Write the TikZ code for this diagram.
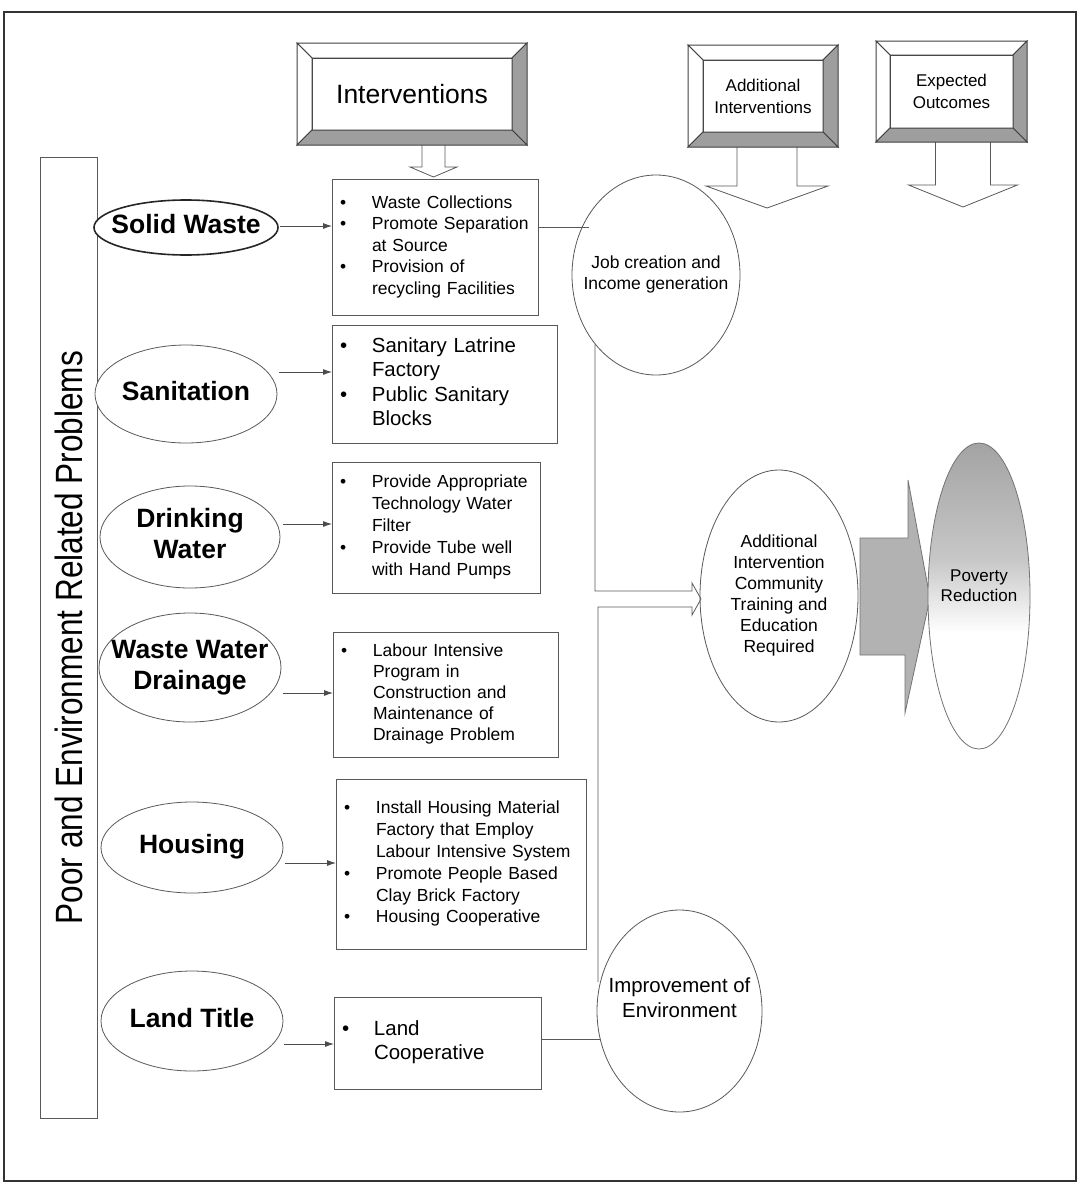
\documentclass[tikz,border=0pt]{standalone}
\usepackage{fontspec}
\setmainfont{Liberation Sans}
\usetikzlibrary{arrows.meta,calc,shapes.geometric}
\pgfdeclareverticalshading{povsh}{100bp}{color(0bp)=(white); color(25bp)=(white); color(44bp)=(white); color(56bp)=(black!22); color(75bp)=(black!36); color(100bp)=(black!36)}
\newcommand\ctext[1]{\makebox[0pt]{\begin{tabular}{@{}c@{}}#1\end{tabular}}}
\newcommand\bu{\makebox[40pt][l]{\hspace{8pt}\textbullet}}
\newcommand\bevelframe[2]{%
  \draw[frm,fill=white] (#1.north west) -- (#1.north east) -- ++(#2,-#2) -- ($(#1.north west)+(-#2,-#2)$) -- cycle;
  \draw[frm,fill=white] (#1.north west) -- (#1.south west) -- ++(-#2,#2) -- ($(#1.north west)+(-#2,-#2)$) -- cycle;
  \draw[frm,fill=black!38] (#1.north east) -- (#1.south east) -- ++(#2,#2) -- ($(#1.north east)+(#2,-#2)$) -- cycle;
  \draw[frm,fill=black!38] (#1.south west) -- (#1.south east) -- ++(#2,#2) -- ($(#1.south west)+(-#2,#2)$) -- cycle;
}
\newcommand\downblock[5]{%
  \draw[ln,fill=white] ($(#1)+(-#3,-#2)$) -- ($(#1)+(-#3,-#5)$) -- ($(#1)+(-#4,-#5)$) -- (#1) -- ($(#1)+(#4,-#5)$) -- ($(#1)+(#3,-#5)$) -- ($(#1)+(#3,-#2)$);
}
\begin{document}
\begin{tikzpicture}[x=1pt,y=-1pt,
  ln/.style={draw=black!65,line width=0.8pt},
  frm/.style={draw=black!75,line width=1pt},
  ell/.style={ln,ellipse,inner sep=0pt,outer sep=0pt,fill=white},
  ibox/.style={ln,rectangle,inner xsep=0pt,inner ysep=0pt,outer sep=0pt,align=left,fill=white},
  elab/.style={font=\fontsize{26.5}{31}\selectfont\bfseries},
  inner/.style={frm,rectangle,inner sep=0pt,outer sep=0pt,fill=white,align=center},
  arr/.style={draw=black!70,line width=0.8pt,-{Latex[length=9pt,width=6pt]}},
  txt/.style={font=\fontsize{17.5}{21}\selectfont}
]
\useasboundingbox (0,0) rectangle (1083,1183);
\draw[black!80,line width=1.6pt] (4,12) rectangle (1076,1181);

% problems column
\node[ln,rectangle,rotate=90,minimum width=961pt,minimum height=57pt,inner sep=0pt,
  font=\fontsize{38}{44}\selectfont] (prob) at (68.5,637.5)
  {\scalebox{0.83}[1]{Poor and Environment Related Problems}};

% left ellipses
\node[ell,elab,line width=1.6pt,draw=black!85,minimum width=184pt,minimum height=55pt] (sw) at (186,227.5) {\ctext{Solid Waste}};
\node[ell,elab,minimum width=182pt,minimum height=98pt] (san) at (186,394) {\ctext{Sanitation}};
\node[ell,elab,minimum width=180pt,minimum height=102pt] (dw) at (190,537) {\ctext{Drinking\\Water}};
\node[ell,elab,minimum width=182pt,minimum height=109pt] (wwd) at (190,667.5) {\ctext{Waste Water\\Drainage}};
\node[ell,elab,minimum width=182pt,minimum height=91pt] (hou) at (192,847.5) {\ctext{Housing}};
\node[ell,elab,minimum width=182pt,minimum height=100pt] (land) at (192,1021) {\ctext{Land Title}};

% intervention boxes
\node[ibox,text width=206pt,minimum height=136pt,font=\fontsize{17.5}{21.5}\selectfont] (b1) at (435,247)
 {\begin{tabular}{@{}l@{}l@{}}\bu & Waste Collections\\ \bu & Promote Separation\\ & at Source\\ \bu & Provision of\\ & recycling Facilities\end{tabular}};
\node[ibox,text width=225pt,minimum height=118pt,font=\fontsize{20.4}{24.5}\selectfont] (b2) at (444.5,384)
 {\begin{tabular}{@{}l@{}l@{}}\bu & Sanitary Latrine\\ & Factory\\ \bu & Public Sanitary\\ & Blocks\end{tabular}};
\node[ibox,text width=208pt,minimum height=131pt,font=\fontsize{17.5}{22}\selectfont] (b3) at (436,527.5)
 {\begin{tabular}{@{}l@{}l@{}}\bu & Provide Appropriate\\ & Technology Water\\ & Filter\\ \bu & Provide Tube well\\ & with Hand Pumps\end{tabular}};
\node[ibox,text width=225pt,minimum height=125pt,font=\fontsize{17.5}{21}\selectfont] (b4) at (445.5,694.5)
 {\begin{tabular}{@{}l@{}l@{}}\bu & Labour Intensive\\ & Program in\\ & Construction and\\ & Maintenance of\\ & Drainage Problem\end{tabular}};
\node[ibox,text width=250pt,minimum height=170pt,font=\fontsize{17.5}{21.8}\selectfont] (b5) at (461,864)
 {\begin{tabular}{@{}l@{}l@{}}\bu & Install Housing Material\\ & Factory that Employ\\ & Labour Intensive System\\ \bu & Promote People Based\\ & Clay Brick Factory\\ \bu & Housing Cooperative\end{tabular}};
\node[ibox,text width=207pt,minimum height=92pt,font=\fontsize{20.5}{24}\selectfont] (b6) at (437.5,1043)
 {\begin{tabular}{@{}l@{}l@{}}\bu & Land\\ & Cooperative\end{tabular}};

% arrows problem -> intervention
\draw[arr] ($(sw.east)+(2,-1.5)$) -- (b1.west |- 0,226);
\draw[arr] ($(san.east)+(2,-22)$) -- (b2.west |- 0,372);
\draw[arr] ($(dw.east)+(3,-13)$) -- (b3.west |- 0,524);
\draw[arr] ($(wwd.east)+(2,25.5)$) -- (b4.west |- 0,693);
\draw[arr] ($(hou.east)+(2,15.5)$) -- (b5.west |- 0,863);
\draw[arr] ($(land.east)+(1,23)$) -- (b6.west |- 0,1044);

% outcome ellipses
\node[ell,txt,minimum width=168pt,minimum height=200pt] (job) at (656,275) {\ctext{Job creation and\\Income generation}};
\node[ell,txt,minimum width=158pt,minimum height=252pt] (add) at (779,596) {\ctext{Additional\\Intervention\\Community\\Training and\\Education\\Required}};
\node[ell,minimum width=165pt,minimum height=202pt,
  label={[font=\fontsize{20.4}{25}\selectfont,yshift=11.5pt]center:{\ctext{Improvement of\\Environment}}}] (imp) at (679.5,1011) {};

% connectors
\draw[ln] (b1.east |- job.147) -- ($(job.147)+(7,0)$);
\draw[ln] (b6.east |- imp.200) -- (imp.200);
\coordinate (tip) at ($(add.west)+(1,3)$);
\coordinate (ja) at (595,591);
\coordinate (jb) at (598,607);
\draw[ln] (ja |- job.229) -- (ja) -- ($(tip)+(-9,-8)$) -- ($(tip)+(-9,-16)$) -- (tip)
  -- ($(tip)+(-9,16)$) -- ($(tip)+(-9,8)$) -- (jb) -- (jb |- imp.160);

% gray block arrow and poverty reduction
\draw[draw=black!55,fill=black!30,line width=0.8pt] ($(add.east)+(2,-58)$) -- ++(48,0) -- ++(0,-58) -- ($(add.east)+(72,2)$)
  -- ($(add.east)+(47,117)$) -- ++(0,-58) -- ($(add.east)+(2,59)$) -- cycle;
\node[ellipse,draw=black!55,line width=0.8pt,inner sep=0pt,shading=povsh,
  minimum width=102pt,minimum height=306pt,
  label={[font=\fontsize{17}{20}\selectfont,yshift=9pt]center:{\ctext{Poverty\\Reduction}}}] (pov) at (979,596) {};

% top headers
\coordinate (t1) at (433.5,177);
\coordinate (t2) at (767,208);
\coordinate (t3) at (963,207);
\downblock{t1}{33}{11.5}{23.5}{10}
\downblock{t2}{61}{30}{61}{22}
\downblock{t3}{65}{27.5}{54.5}{22}

\node[inner,minimum width=200pt,minimum height=72pt,font=\fontsize{26.5}{31}\selectfont] (int) at (412,94) {Interventions};
\bevelframe{int}{15}
\node[inner,minimum width=120pt,minimum height=72pt,font=\fontsize{17}{22}\selectfont] (ai) at (763,96) {Additional\\Interventions};
\bevelframe{ai}{15}
\node[inner,minimum width=123pt,minimum height=73pt,font=\fontsize{17}{22}\selectfont] (eo) at (951.5,91.5) {Expected\\Outcomes};
\bevelframe{eo}{14}
\end{tikzpicture}
\end{document}
